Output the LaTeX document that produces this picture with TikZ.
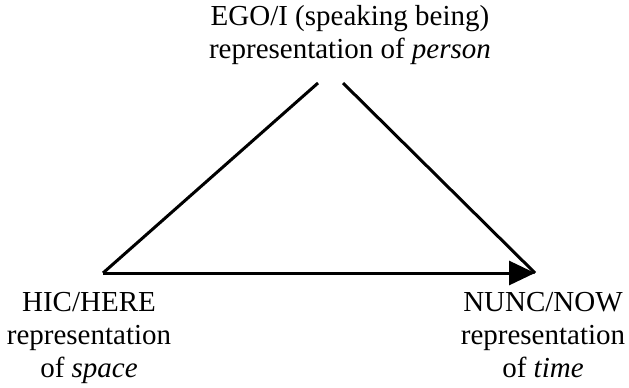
\documentclass[tikz,border=0pt]{standalone}
\usepackage{fontspec}
\setmainfont{Liberation Serif}
\usetikzlibrary{arrows.meta}
\tikzset{
  edge/.style={line width=3bp, line cap=butt},
  lbl/.style={align=center, inner sep=0pt, anchor=north,
    font=\fontsize{29bp}{33bp}\selectfont},
}
\begin{document}
\begin{tikzpicture}[x=1bp, y=-1bp]
\useasboundingbox (0,0) rectangle (629,387);
\coordinate (TL) at (318,83);
\coordinate (TR) at (343,83);
\coordinate (L) at (103,273);
\coordinate (R) at (535,273);
\node[lbl] (ego) at (350,5)
  {EGO/I (speaking being)\\representation of \textit{person}};
\node[lbl] (hic) at (89,292)
  {HIC/HERE\\representation\\of \textit{space}};
\node[lbl] (nunc) at (543,292)
  {NUNC/NOW\\representation\\of \textit{time}};
\draw[edge] (TL) -- (L);
\draw[edge] (TR) -- (R);
\draw[edge, -{Triangle[length=26bp, width=24bp]}] (L) -- (R);
\end{tikzpicture}
\end{document}
